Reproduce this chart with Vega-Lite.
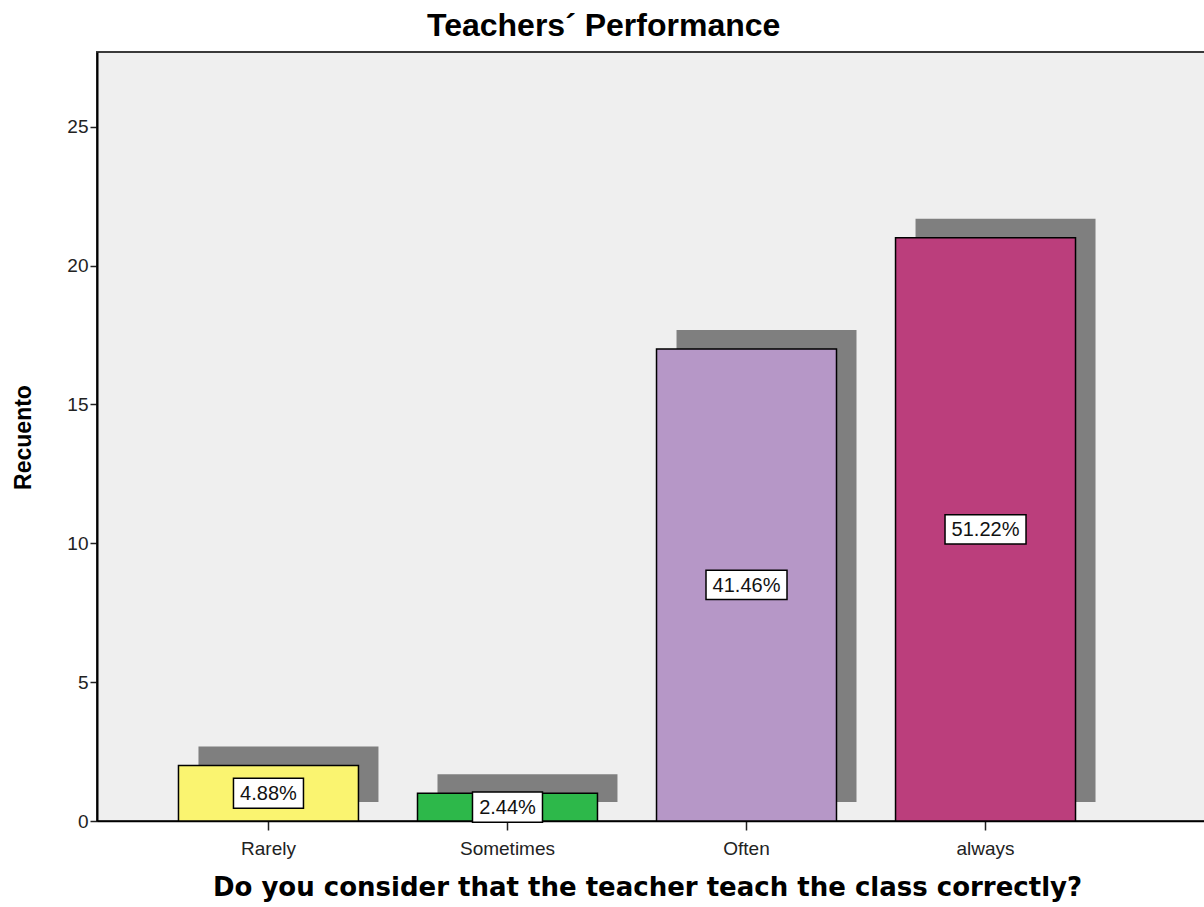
{
  "$schema": "https://vega.github.io/schema/vega-lite/v6.json",
  "width": 1110,
  "height": 769,
  "autosize": "none",
  "padding": {"left": 97, "top": 52, "right": 0, "bottom": 86},
  "background": "white",
  "config": {
    "view": {"fill": "#efefef", "stroke": "#3a3a3a", "strokeWidth": 2},
    "font": "Liberation Sans"
  },
  "title": {
    "text": "Teachers´ Performance",
    "font": "Liberation Sans",
    "fontSize": 32,
    "fontWeight": "bold",
    "color": "black",
    "anchor": "start",
    "frame": "group",
    "dx": 330,
    "offset": 9
  },
  "data": {
    "values": [
      {"cat": "Rarely", "count": 2, "label": "4.88%"},
      {"cat": "Sometimes", "count": 1, "label": "2.44%"},
      {"cat": "Often", "count": 17, "label": "41.46%"},
      {"cat": "always", "count": 21, "label": "51.22%"}
    ]
  },
  "layer": [
    {
      "mark": {"type": "bar", "color": "#7f7f7f", "xOffset": 20, "yOffset": -19, "y2Offset": -19},
      "encoding": {
        "x": {"field": "cat", "type": "nominal", "sort": ["Rarely", "Sometimes", "Often", "always"],
              "scale": {"paddingInner": 0.247, "paddingOuter": 0.4455, "align": 0.3826}},
        "y": {"field": "count", "type": "quantitative", "scale": {"domain": [0, 27.69], "nice": false}, "axis": null},
        "y2": {"datum": 0}
      }
    },
    {
      "mark": {"type": "bar", "stroke": "black", "strokeWidth": 1.5},
      "encoding": {
        "x": {"field": "cat", "type": "nominal", "sort": ["Rarely", "Sometimes", "Often", "always"],
              "scale": {"paddingInner": 0.247, "paddingOuter": 0.4455, "align": 0.3826},
              "axis": {
                "title": "Do you consider that the teacher teach the class correctly?",
                "titleFont": "DejaVu Sans", "titleFontSize": 26, "titleFontWeight": "bold", "titleColor": "black",
                "titleX": 550, "titleY": 74, "titleAlign": "center", "titleBaseline": "alphabetic",
                "labelAngle": 0, "labelAlign": "center", "labelBaseline": "top",
                "labelFont": "Liberation Sans", "labelFontSize": 19, "labelColor": "#222",
                "labelPadding": 9, "tickSize": 9, "tickColor": "#222", "tickWidth": 1.5,
                "domainColor": "black", "domainWidth": 1.5
              }},
        "y": {"field": "count", "type": "quantitative", "scale": {"domain": [0, 27.69], "nice": false},
              "axis": {
                "title": "Recuento", "titleFont": "Liberation Sans", "titleFontSize": 23, "titleFontWeight": "bold",
                "titleColor": "black", "titleX": -67, "titleY": 385, "titleAlign": "center", "titleBaseline": "alphabetic", "titleAngle": -90,
                "values": [0, 5, 10, 15, 20, 25], "grid": false,
                "labelFont": "Liberation Sans", "labelFontSize": 19, "labelColor": "#222", "labelPadding": 2,
                "tickSize": 7, "tickColor": "#222", "tickWidth": 1.5, "domainColor": "black", "domainWidth": 2
              }},
        "y2": {"datum": 0},
        "color": {"field": "cat", "type": "nominal",
                  "scale": {"domain": ["Rarely", "Sometimes", "Often", "always"], "range": ["#faf470", "#2db84a", "#b697c7", "#bb3e7c"]},
                  "legend": null}
      }
    },
    {
      "transform": [{"filter": {"field": "cat", "oneOf": ["Rarely", "Sometimes"]}}],
      "mark": {"type": "point", "shape": "M-1,-0.43L1,-0.43L1,0.43L-1,0.43Z", "size": 4900, "filled": true,
               "fill": "white", "stroke": "black", "strokeWidth": 1.5, "opacity": 1, "fillOpacity": 1, "strokeOpacity": 1},
      "encoding": {
        "x": {"field": "cat", "type": "nominal", "sort": ["Rarely", "Sometimes", "Often", "always"],
              "scale": {"paddingInner": 0.247, "paddingOuter": 0.4455, "align": 0.3826}},
        "y": {"field": "count", "type": "quantitative", "scale": {"domain": [0, 55.38], "nice": false}, "axis": null}
      }
    },
    {
      "transform": [{"filter": {"field": "cat", "oneOf": ["Often", "always"]}}],
      "mark": {"type": "point", "shape": "M-1,-0.36L1,-0.36L1,0.36L-1,0.36Z", "size": 6561, "filled": true,
               "fill": "white", "stroke": "black", "strokeWidth": 1.5, "opacity": 1, "fillOpacity": 1, "strokeOpacity": 1},
      "encoding": {
        "x": {"field": "cat", "type": "nominal", "sort": ["Rarely", "Sometimes", "Often", "always"],
              "scale": {"paddingInner": 0.247, "paddingOuter": 0.4455, "align": 0.3826}},
        "y": {"field": "count", "type": "quantitative", "scale": {"domain": [0, 55.38], "nice": false}, "axis": null}
      }
    },
    {
      "mark": {"type": "text", "font": "Liberation Sans", "fontSize": 20, "color": "#111", "align": "center", "baseline": "middle", "dy": 1},
      "encoding": {
        "x": {"field": "cat", "type": "nominal", "sort": ["Rarely", "Sometimes", "Often", "always"],
              "scale": {"paddingInner": 0.247, "paddingOuter": 0.4455, "align": 0.3826}},
        "y": {"field": "count", "type": "quantitative", "scale": {"domain": [0, 55.38], "nice": false}, "axis": null},
        "text": {"field": "label", "type": "nominal"}
      }
    }
  ],
  "resolve": {"scale": {"y": "independent"}}
}
